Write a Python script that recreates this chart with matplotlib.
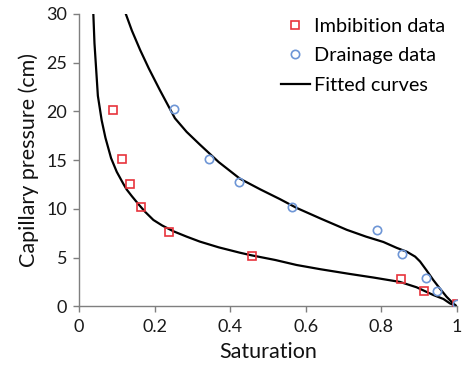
import matplotlib
matplotlib.use('Agg')
import matplotlib.pyplot as plt
from matplotlib.lines import Line2D

# 数据
imb_s = [0.089, 0.114, 0.135, 0.165, 0.237, 0.457, 0.853, 0.913, 1.0]
imb_pc = [20.1, 15.1, 12.6, 10.2, 7.66, 5.2, 2.77, 1.57, 0.27]

dra_s = [0.252, 0.345, 0.424, 0.563, 0.790, 0.855, 0.920, 0.947, 1.0]
dra_pc = [20.26, 15.16, 12.73, 10.23, 7.8, 5.37, 2.87, 1.57, 0.27]

# 拟合曲线（沿曲线取点）
fit_imb_s = [0.038, 0.041, 0.045, 0.050, 0.060, 0.070, 0.085, 0.100, 0.117, 0.126,
             0.140, 0.157, 0.175, 0.197, 0.220, 0.250, 0.285, 0.320, 0.370, 0.426,
             0.457, 0.520, 0.576, 0.640, 0.717, 0.780, 0.850, 0.894, 0.938, 0.965,
             0.982, 1.0]
fit_imb_pc = [30.0, 27.0, 24.6, 21.6, 19.1, 17.3, 15.2, 13.8, 12.6, 12.0,
              11.3, 10.5, 9.7, 8.86, 8.3, 7.7, 7.15, 6.64, 6.05, 5.5,
              5.23, 4.75, 4.24, 3.8, 3.32, 2.95, 2.5, 1.95, 1.16, 0.75,
              0.3, 0.0]

fit_dra_s = [0.124, 0.140, 0.162, 0.185, 0.214, 0.254, 0.285, 0.320, 0.370, 0.426,
             0.480, 0.532, 0.576, 0.640, 0.709, 0.760, 0.806, 0.841, 0.868, 0.890,
             0.903, 0.920, 0.938, 0.955, 0.973, 0.988, 1.0]
fit_dra_pc = [30.0, 28.3, 26.3, 24.4, 22.2, 19.3, 17.9, 16.6, 14.8, 13.1,
              12.0, 11.0, 10.1, 9.0, 7.85, 7.15, 6.6, 6.0, 5.6, 5.1,
              4.6, 3.7, 2.7, 1.85, 0.99, 0.4, 0.0]

x_ticks = [0, 0.2, 0.4, 0.6, 0.8, 1]
x_ticklabels = ['0', '0.2', '0.4', '0.6', '0.8', '1']
y_ticks = [0, 5, 10, 15, 20, 25, 30]

plt.rcParams['font.family'] = ['Lato', 'DejaVu Sans']

fig = plt.figure(figsize=(4.66, 3.75), dpi=100)
ax = fig.add_axes([0.1695, 0.1832, 0.8105, 0.7795])

red = '#e8343c'
blue = '#6e96d6'

ax.plot(fit_imb_s, fit_imb_pc, color='black', lw=1.6, zorder=2)
ax.plot(fit_dra_s, fit_dra_pc, color='black', lw=1.6, zorder=2)
ax.plot(imb_s, imb_pc, ls='none', marker='s', ms=6, mfc='none', mec=red, mew=1.2, zorder=3)
ax.plot(dra_s, dra_pc, ls='none', marker='o', ms=6, mfc='none', mec=blue, mew=1.2, zorder=3)

ax.set_xlim(0, 1)
ax.set_ylim(0, 30)
ax.set_xticks(x_ticks)
ax.set_xticklabels(x_ticklabels)
ax.set_yticks(y_ticks)

for s in ['top', 'right']:
    ax.spines[s].set_visible(False)
for s in ['left', 'bottom']:
    ax.spines[s].set_color('#7f7f7f')
    ax.spines[s].set_linewidth(1.0)
ax.tick_params(direction='out', length=4.5, width=1.0, color='#7f7f7f',
               labelsize=13, labelcolor='#1a1a1a')
ax.tick_params(axis='x', pad=5)
ax.tick_params(axis='y', pad=4)

ax.set_xlabel('Saturation', fontsize=15.5, color='#111111', labelpad=5)
ax.set_ylabel('Capillary pressure (cm)', fontsize=15.5, color='#111111', labelpad=5)

handles = [
    Line2D([], [], ls='none', marker='s', ms=6, mfc='none', mec=red, mew=1.2),
    Line2D([], [], ls='none', marker='o', ms=6, mfc='none', mec=blue, mew=1.2),
    Line2D([], [], color='black', lw=1.6),
]
labels = ['Imbibition data', 'Drainage data', 'Fitted curves']
fig.legend(handles, labels, loc='upper left', bbox_to_anchor=(0.602, 0.953),
           frameon=False, fontsize=14.3, handlelength=1.5, handletextpad=0.2,
           labelspacing=0.64, borderpad=0, borderaxespad=0)

fig.savefig('out.png', dpi=100)
